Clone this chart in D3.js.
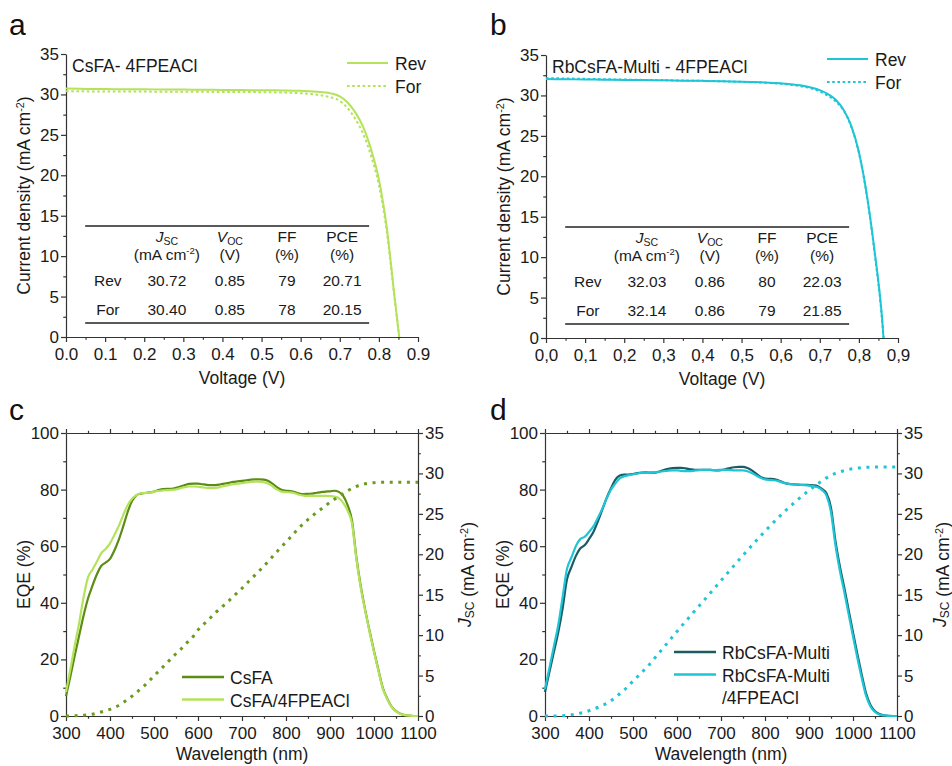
<!DOCTYPE html>
<html>
<head>
<meta charset="utf-8">
<script src="https://cdn.jsdelivr.net/npm/d3@7"></script>
<style>
  body { margin: 0; background: #fff; }
  svg { font-family: "Liberation Sans", Arial, sans-serif; }
  .axis path, .axis line { stroke: #333; stroke-width: 1.2; }
  .axis text { font-size: 17px; fill: #1a1a1a; font-family: "Liberation Sans", Arial, sans-serif; }
  .lbl { font-size: 17.5px; fill: #1a1a1a; }
  .tbl { font-size: 15.5px; fill: #1a1a1a; }
</style>
</head>
<body>
<svg id="fig" width="952" height="766"></svg>
<script>
// ── DATA ───────────────────────────────────────────────────────
// J-V curves (V in volts, J in mA cm-2)
const voltA = [0, 0.05, 0.1, 0.15, 0.2, 0.25, 0.3, 0.35, 0.4, 0.45, 0.5, 0.55, 0.6, 0.65, 0.68, 0.7, 0.72, 0.74, 0.76, 0.78, 0.8, 0.82, 0.84, 0.852];
const jRevA = [30.72, 30.68, 30.66, 30.65, 30.63, 30.62, 30.6, 30.58, 30.56, 30.54, 30.52, 30.49, 30.44, 30.3, 30.1, 29.75, 29.0, 27.75, 25.95, 23.2, 19.5, 13.6, 5.0, 0];
const jForA = [30.40, 30.38, 30.37, 30.36, 30.35, 30.34, 30.33, 30.32, 30.31, 30.3, 30.28, 30.24, 30.15, 29.9, 29.6, 29.2, 28.3, 26.95, 25.1, 22.4, 18.8, 13.1, 4.8, 0];

const voltB = [0, 0.05, 0.1, 0.15, 0.2, 0.25, 0.3, 0.35, 0.4, 0.45, 0.5, 0.55, 0.6, 0.65, 0.68, 0.7, 0.72, 0.74, 0.76, 0.78, 0.8, 0.82, 0.84, 0.86, 0.863];
const jRevB = [32.03, 32.0, 31.97, 31.95, 31.92, 31.9, 31.87, 31.83, 31.8, 31.75, 31.7, 31.62, 31.5, 31.25, 30.95, 30.65, 30.2, 29.5, 28.3, 26.3, 23.0, 17.8, 10.8, 2.0, 0];
const jForB = [32.14, 32.1, 32.05, 32.0, 31.96, 31.92, 31.88, 31.84, 31.8, 31.75, 31.68, 31.6, 31.45, 31.15, 30.85, 30.5, 30.0, 29.3, 28.2, 26.2, 22.9, 17.7, 10.6, 1.8, 0];

// Tables of device parameters
const tableRowsA = [["Rev", "30.72", "0.85", "79", "20.71"], ["For", "30.40", "0.85", "78", "20.15"]];
const tableRowsB = [["Rev", "32.03", "0.86", "80", "22.03"], ["For", "32.14", "0.86", "79", "21.85"]];

// EQE spectra (wavelength in nm, EQE in %, integrated Jsc in mA cm-2)
const wavelength = [300, 310, 320, 330, 340, 350, 360, 370, 380, 390,
  400, 410, 420, 430, 440, 450, 460, 470, 480, 490,
  500, 510, 520, 530, 540, 550, 560, 570, 580, 590,
  600, 610, 620, 630, 640, 650, 660, 670, 680, 690,
  700, 710, 720, 730, 740, 750, 760, 770, 780, 790,
  800, 810, 820, 830, 840, 850, 860, 870, 880, 890,
  900, 910, 920, 930, 940, 950, 960, 970, 980, 990,
  1000, 1010, 1020, 1030, 1040, 1050, 1060, 1070, 1080, 1090, 1100];

const eqeCsFA = [7, 14, 21.5, 28.5, 35.5, 41.5, 46, 50, 53, 54.2,
  55.5, 58.5, 62.3, 67, 72, 76, 78, 78.6, 78.8, 79,
  79.3, 79.8, 80.2, 80.3, 80.3, 80.6, 81.1, 81.6, 82.0, 82.1,
  82.1, 81.9, 81.7, 81.6, 81.6, 81.8, 82.1, 82.4, 82.7, 82.9,
  83.1, 83.3, 83.5, 83.6, 83.6, 83.5, 83.0, 82.0, 80.8, 79.9,
  79.6, 79.5, 79.1, 78.6, 78.4, 78.5, 78.6, 78.9, 79.1, 79.3,
  79.4, 79.6, 79.2, 77.8, 74.5, 69, 56, 45.8, 37.5, 30,
  23, 16.3, 10, 6.2, 3.3, 1.7, 0.8, 0.3, 0.1, 0, 0];
const eqeCsFA4F = [8.5, 16.5, 25, 33, 42, 49, 51.7, 54.5, 57.5, 59,
  61, 64, 67.2, 71, 74.5, 76.8, 78, 78.7, 78.8, 78.9,
  79.3, 79.5, 79.7, 79.8, 79.9, 80.1, 80.5, 80.9, 81.1, 81.1,
  81.0, 80.8, 80.6, 80.5, 80.6, 80.9, 81.3, 81.6, 81.9, 82.1,
  82.3, 82.5, 82.7, 82.8, 82.8, 82.6, 82.1, 81.1, 80.0, 79.3,
  79.1, 79.0, 78.7, 78.2, 77.9, 77.8, 77.8, 77.8, 77.8, 77.8,
  77.7, 77.5, 77.0, 75.3, 72.5, 68, 55.5, 45.2, 37.2, 29.7,
  22.6, 16, 9.7, 6, 3.2, 1.6, 0.7, 0.3, 0.1, 0, 0];
const jscCsFA = [0, 0.01, 0.03, 0.06, 0.1, 0.15, 0.22, 0.35, 0.5, 0.65,
  0.82, 1.05, 1.3, 1.65, 2.05, 2.45, 2.9, 3.35, 3.85, 4.4,
  4.95, 5.5, 6.05, 6.6, 7.15, 7.7, 8.2, 8.8, 9.35, 9.9,
  10.65, 11.2, 11.7, 12.25, 12.8, 13.25, 13.75, 14.25, 14.75, 15.3,
  15.8, 16.35, 16.9, 17.45, 18.0, 18.55, 19.15, 19.75, 20.35, 20.95,
  21.5, 22.1, 22.7, 23.3, 23.8, 24.3, 24.75, 25.2, 25.6, 26.0,
  26.45, 26.8, 27.15, 27.5, 27.85, 28.15, 28.4, 28.6, 28.72, 28.8,
  28.85, 28.88, 28.9, 28.9, 28.9, 28.9, 28.9, 28.9, 28.9, 28.9, 28.9];

const eqeRb = [8.5, 15.5, 22.5, 29.5, 38, 48.3, 52.6, 56.5, 59.2, 60.3,
  62.5, 65, 68.7, 72.8, 77, 80.5, 83.5, 85, 85.3, 85.3,
  85.5, 85.8, 86, 86.1, 86, 86, 86.4, 86.9, 87.3, 87.6,
  87.7, 87.7, 87.5, 87.2, 87.0, 87.0, 87.0, 87.0, 86.9, 86.8,
  86.9, 87.2, 87.6, 87.9, 88.0, 88.0, 87.6, 86.8, 85.6, 84.5,
  83.9, 83.8, 83.7, 83.3, 82.6, 82.1, 81.9, 81.8, 81.7, 81.7,
  81.6, 81.5, 81.2, 80.2, 78.6, 73.5, 62, 53, 45.5, 37.5,
  29.5, 21.8, 14.5, 7.8, 3.8, 1.7, 0.7, 0.25, 0.05, 0, 0];
const eqeRb4F = [9.5, 17, 24.5, 32, 42, 52, 56, 60, 62.5, 63.3,
  65, 67, 70, 73.2, 76.8, 80, 82.2, 84, 84.7, 85.1,
  85.4, 85.7, 85.9, 86, 86, 86.1, 86.3, 86.5, 86.7, 86.8,
  86.8, 86.6, 86.5, 86.5, 86.7, 86.9, 87.0, 87.0, 86.9, 86.9,
  87.0, 87.0, 86.9, 86.8, 86.8, 86.8, 86.5, 85.9, 85.0, 84.2,
  83.6, 83.4, 83.3, 83.0, 82.5, 82.1, 81.9, 81.8, 81.7, 81.6,
  81.4, 81.2, 80.8, 79.8, 77.8, 72, 60.5, 51.5, 44, 36,
  28.2, 20.5, 13.3, 7, 3.3, 1.4, 0.5, 0.2, 0.05, 0, 0];
const jscRb = [0, 0, 0.01, 0.02, 0.04, 0.08, 0.15, 0.25, 0.35, 0.48,
  0.65, 0.85, 1.05, 1.3, 1.55, 1.9, 2.3, 2.75, 3.2, 3.75,
  4.3, 4.85, 5.4, 5.95, 6.55, 7.2, 7.85, 8.5, 9.15, 9.8,
  10.45, 11.1, 11.72, 12.35, 12.98, 13.6, 14.23, 14.86, 15.49, 16.12,
  16.75, 17.38, 18.0, 18.63, 19.25, 19.87, 20.48, 21.08, 21.68, 22.27,
  22.85, 23.42, 23.98, 24.52, 25.05, 25.57, 26.07, 26.55, 27.02, 27.47,
  27.9, 28.32, 28.72, 29.1, 29.45, 29.75, 30.0, 30.2, 30.35, 30.48,
  30.58, 30.66, 30.72, 30.76, 30.78, 30.8, 30.8, 30.8, 30.8, 30.8, 30.8];

// Tick values
const voltTicks = [0, 0.1, 0.2, 0.3, 0.4, 0.5, 0.6, 0.7, 0.8, 0.9];
const jvTicks = [0, 5, 10, 15, 20, 25, 30, 35];
const wlTicks = [300, 400, 500, 600, 700, 800, 900, 1000, 1100];
const eqeTicks = [0, 20, 40, 60, 80, 100];
const jscTicks = [0, 5, 10, 15, 20, 25, 30, 35];

// Colours
const cLight = "#b4e25a", cDark = "#5b8c14", cDotC = "#6a9b1c";
const cCyan = "#1ec5d6", cTeal = "#1b5c62";

// ── HELPERS ────────────────────────────────────────────────────
const svg = d3.select("#fig");

function axis(g, make, scale, major, minor, fmt, tf, pad, size) {
  const gm = g.append("g").attr("class", "axis").attr("transform", tf || null)
    .call(make(scale).tickValues(minor).tickSize(size * 0.55).tickFormat(""));
  gm.select(".domain").remove();
  g.append("g").attr("class", "axis").attr("transform", tf || null)
    .call(make(scale).tickValues(major).tickSize(size).tickSizeOuter(0)
      .tickPadding(pad).tickFormat(fmt));
}

// text with italic symbol + subscript, e.g. J_SC
function symText(t, sym, sub) {
  t.append("tspan").attr("font-style", "italic").text(sym);
  t.append("tspan").attr("font-size", "0.68em").attr("dy", 3).text(sub);
  t.append("tspan").attr("dy", -3).text("");
}
function unitText(t, pre) {
  t.append("tspan").text(pre + "(mA cm");
  t.append("tspan").attr("font-size", "0.62em").attr("dy", -6).text("-2");
  t.append("tspan").attr("dy", 6).text(")");
}

function series(xs, ys) { return xs.map((v, i) => [v, ys[i]]); }

// ── J-V PANELS ─────────────────────────────────────────────────
function jvPanel(p) {
  const g = svg.append("g").attr("transform", `translate(${p.left},${p.top})`);
  const x = d3.scaleLinear().domain([0, 0.9]).range([0, 352]);
  const y = d3.scaleLinear().domain([0, 35]).range([283, 0]);

  axis(g, d3.axisBottom, x, voltTicks, d3.range(0.05, 0.9, 0.1), p.fmt, "translate(0,283)", 6, 5);
  axis(g, d3.axisLeft, y, jvTicks, d3.range(2.5, 35, 5), d3.format("d"), null, 2, 5);

  const line = d3.line().x(d => x(d[0])).y(d => y(d[1])).curve(d3.curveMonotoneX);
  g.append("path").attr("d", line(series(p.volt, p.rev)))
    .attr("fill", "none").attr("stroke", p.color).attr("stroke-width", 2);
  g.append("path").attr("d", line(series(p.volt, p.fwd)))
    .attr("fill", "none").attr("stroke", p.color).attr("stroke-width", 2)
    .attr("stroke-dasharray", "2.6,2.6");

  // table of parameters
  g.selectAll(".rule").data([13.73, 1.73]).join("line")
    .attr("x1", x(0.049)).attr("x2", x(0.775))
    .attr("y1", d => y(d)).attr("y2", d => y(d))
    .attr("stroke", "#222").attr("stroke-width", 1.6);
  const colX = [0.107, 0.258, 0.419, 0.565, 0.706];
  const h1 = [null, ["J", "SC"], ["V", "OC"], "FF", "PCE"];
  const h2 = [null, "unit", "(V)", "(%)", "(%)"];
  h1.forEach((h, i) => {
    if (!h) return;
    const t = g.append("text").attr("class", "tbl").attr("x", x(colX[i])).attr("y", y(11.75))
      .attr("text-anchor", "middle");
    if (Array.isArray(h)) symText(t, h[0], h[1]); else t.text(h);
  });
  h2.forEach((h, i) => {
    if (!h) return;
    const t = g.append("text").attr("class", "tbl").attr("x", x(colX[i])).attr("y", y(9.52))
      .attr("text-anchor", "middle");
    if (h === "unit") unitText(t, ""); else t.text(h);
  });
  p.rows.forEach((row, r) => {
    row.forEach((c, i) => {
      g.append("text").attr("class", "tbl").attr("x", x(colX[i])).attr("y", y(r === 0 ? 6.31 : 2.72))
        .attr("text-anchor", "middle").text(c);
    });
  });

  // sample label
  g.append("text").attr("class", "lbl").attr("x", 6).attr("y", 18).text(p.title);

  // legend
  [["Rev", null], ["For", "2.6,2.6"]].forEach(([name, dash], i) => {
    const ly = p.legY + i * 23;
    g.append("line").attr("x1", 281).attr("x2", 322).attr("y1", ly).attr("y2", ly)
      .attr("stroke", p.color).attr("stroke-width", 2).attr("stroke-dasharray", dash);
    g.append("text").attr("class", "lbl").attr("x", 329).attr("y", ly + 7).text(name);
  });

  // axis titles
  const yt = g.append("text").attr("class", "lbl").attr("text-anchor", "middle")
    .attr("transform", `translate(${p.yTitleX},141.5) rotate(-90)`);
  unitText(yt, "Current density ");
  g.append("text").attr("class", "lbl").attr("text-anchor", "middle")
    .attr("x", 176).attr("y", 330).text("Voltage (V)");
}

jvPanel({ left: 66, top: 54, volt: voltA, rev: jRevA, fwd: jForA, color: cLight,
  rows: tableRowsA, title: "CsFA- 4FPEACl", legY: 9, yTitleX: -36,
  fmt: d3.format(".1f") });
jvPanel({ left: 546, top: 55, volt: voltB, rev: jRevB, fwd: jForB, color: cCyan,
  rows: tableRowsB, title: "RbCsFA-Multi - 4FPEACl", legY: 4, yTitleX: -36,
  fmt: d => d3.format(".1f")(d).replace(".", ",") });

// ── EQE PANELS ─────────────────────────────────────────────────
function eqePanel(p) {
  const g = svg.append("g").attr("transform", `translate(${p.left},433)`);
  const x = d3.scaleLinear().domain([300, 1100]).range([0, 352]);
  const y = d3.scaleLinear().domain([0, 100]).range([283, 0]);
  const y2 = d3.scaleLinear().domain([0, 35]).range([283, 0]);

  axis(g, d3.axisBottom, x, wlTicks, d3.range(350, 1100, 100), d3.format("d"), "translate(0,283)", 6, 5);
  axis(g, d3.axisTop, x, wlTicks, d3.range(350, 1100, 100), "", null, 0, 4);
  axis(g, d3.axisLeft, y, eqeTicks, d3.range(10, 100, 20), d3.format("d"), null, 2, 5);
  axis(g, d3.axisRight, y2, jscTicks, d3.range(2.5, 35, 5), d3.format("d"), "translate(352,0)", 2, 5);

  const line = d3.line().x(d => x(d[0])).curve(d3.curveMonotoneX);
  g.append("path").attr("d", line.y(d => y(d[1]))(series(wavelength, p.eqe1)))
    .attr("fill", "none").attr("stroke", p.c1).attr("stroke-width", 2.2);
  g.append("path").attr("d", line.y(d => y(d[1]))(series(wavelength, p.eqe2)))
    .attr("fill", "none").attr("stroke", p.c2).attr("stroke-width", 2.2);
  g.append("path").attr("d", line.y(d => y2(d[1]))(series(wavelength, p.jsc)))
    .attr("fill", "none").attr("stroke", p.cDot).attr("stroke-width", 3)
    .attr("stroke-dasharray", "3,5.6");

  // legend
  p.legend.forEach((lab, i) => {
    const ly = p.legY + i * 22.5;
    g.append("line").attr("x1", p.legX).attr("x2", p.legX + 42).attr("y1", ly).attr("y2", ly)
      .attr("stroke", i === 0 ? p.c1 : p.c2).attr("stroke-width", 2.4);
    const t = g.append("text").attr("class", "lbl").attr("x", p.legX + 48).attr("y", ly + 7);
    lab.split("\n").forEach((s, k) => {
      t.append("tspan").attr("x", p.legX + 48).attr("dy", k ? 22.5 : 0).text(s);
    });
  });

  // axis titles
  g.append("text").attr("class", "lbl").attr("text-anchor", "middle")
    .attr("transform", "translate(-36,141.5) rotate(-90)").text("EQE (%)");
  const rt = g.append("text").attr("class", "lbl").attr("text-anchor", "middle")
    .attr("transform", `translate(${p.rTitleX},141.5) rotate(-90)`);
  symText(rt, "J", "SC");
  unitText(rt, " ");
  g.append("text").attr("class", "lbl").attr("text-anchor", "middle")
    .attr("x", 176).attr("y", 327).text("Wavelength (nm)");
}

eqePanel({ left: 66, eqe1: eqeCsFA, eqe2: eqeCsFA4F, jsc: jscCsFA,
  c1: cDark, c2: cLight, cDot: cDotC,
  legend: ["CsFA", "CsFA/4FPEACl"], legX: 116, legY: 244, rTitleX: 405 });
eqePanel({ left: 545, eqe1: eqeRb, eqe2: eqeRb4F, jsc: jscRb,
  c1: cTeal, c2: cCyan, cDot: cCyan,
  legend: ["RbCsFA-Multi", "RbCsFA-Multi\n/4FPEACl"], legX: 129, legY: 219, rTitleX: 401 });

// ── PANEL LETTERS ──────────────────────────────────────────────
[["a", 9, 35], ["b", 490, 35], ["c", 9, 420], ["d", 490, 420]].forEach(([s, lx, ly]) => {
  svg.append("text").attr("x", lx).attr("y", ly).attr("font-size", "30px")
    .attr("fill", "#111").text(s);
});
</script>
</body>
</html>
